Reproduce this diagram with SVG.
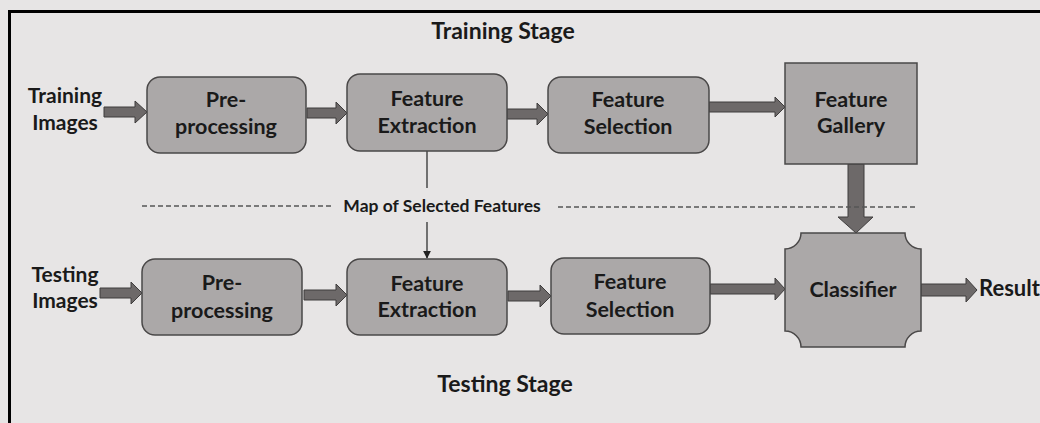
<svg xmlns="http://www.w3.org/2000/svg" width="1040" height="423" viewBox="0 0 1040 423">
<defs>
<style>
.box{fill:#aba8a8;stroke:#4a4848;stroke-width:1.5}
.arr{fill:#6d6969;stroke:#3e3c3c;stroke-width:1}
.t{font-family:Lato,"Open Sans","Liberation Sans",sans-serif;font-weight:bold;fill:#1a1a1a;text-anchor:middle}
.n{font-size:21.5px}
.lbl{font-size:21px}
.dash{stroke:#555;stroke-width:1.3;stroke-dasharray:5 3;fill:none}
.thin{stroke:#222;stroke-width:1.2;fill:none}
</style>
<marker id="ah" viewBox="0 0 10 10" refX="9" refY="5" markerWidth="8" markerHeight="8" markerUnits="userSpaceOnUse" orient="auto">
<path d="M0,0 L10,5 L0,10 Z" fill="#222"/>
</marker>
</defs>
<rect x="0" y="0" width="1040" height="423" fill="#e7e5e5"/>
<path d="M9.5,430 V11.5 H1045" fill="none" stroke="#000" stroke-width="3"/>

<text class="t" x="503" y="39" font-size="23">Training  Stage</text>
<text class="t" x="505" y="392" font-size="23">Testing  Stage</text>

<g id="connectors">
<polygon class="arr" points="104,107 135,107 135,101 147,112 135,123 135,117 104,117"/>
<polygon class="arr" points="307,108 336,108 336,102 347,113 336,124 336,118 307,118"/>
<polygon class="arr" points="507,109 537,109 537,103 548,114 537,125 537,119 507,119"/>
<polygon class="arr" points="709,102 775,102 775,97 785,107 775,117 775,112 709,112"/>
<polygon class="arr" points="848,164 864,164 864,217 873,217 856,233 838,217 848,217"/>
<polygon class="arr" points="100,288 131,288 131,282 142,293 131,304 131,298 100,298"/>
<polygon class="arr" points="304,290 336,290 336,284 347,295 336,306 336,300 304,300"/>
<polygon class="arr" points="508,291 540,291 540,285 551,296 540,307 540,301 508,301"/>
<polygon class="arr" points="710,284 775,284 775,278 785,289 775,300 775,294 710,294"/>
<polygon class="arr" points="921,284 966,284 966,278 977,290 966,302 966,296 921,296"/>
<line class="thin" x1="427" y1="151" x2="427" y2="188"/>
<line class="thin" x1="427" y1="222" x2="427" y2="258" marker-end="url(#ah)"/>
<line class="dash" x1="142" y1="206" x2="332" y2="206"/>
<line class="dash" x1="558" y1="207" x2="918" y2="207"/>
</g>

<text class="t" x="442" y="212" font-size="17.5">Map of Selected Features</text>

<g id="train-images"><text class="t lbl" x="65" y="103">Training</text><text class="t lbl" x="65" y="130">Images</text></g>
<g id="test-images"><text class="t lbl" x="65" y="282">Testing</text><text class="t lbl" x="65" y="308">Images</text></g>

<g id="train-pre"><rect class="box" x="147" y="77" width="159" height="76" rx="13"/>
<text class="t n" x="226" y="107">Pre-</text><text class="t n" x="226" y="134">processing</text></g>
<g id="train-fe"><rect class="box" x="347" y="74" width="160" height="77" rx="13"/>
<text class="t n" x="427" y="106">Feature</text><text class="t n" x="427" y="133">Extraction</text></g>
<g id="train-fs"><rect class="box" x="548" y="77" width="161" height="76" rx="13"/>
<text class="t n" x="628" y="107">Feature</text><text class="t n" x="628" y="134">Selection</text></g>
<g id="gallery"><rect class="box" x="785" y="63" width="132" height="101"/>
<text class="t n" x="851" y="107">Feature</text><text class="t n" x="851" y="133">Gallery</text></g>

<g id="test-pre"><rect class="box" x="142" y="259" width="160" height="76" rx="13"/>
<text class="t n" x="222" y="290">Pre-</text><text class="t n" x="222" y="318">processing</text></g>
<g id="test-fe"><rect class="box" x="347" y="259" width="160" height="76" rx="13"/>
<text class="t n" x="427" y="291">Feature</text><text class="t n" x="427" y="317">Extraction</text></g>
<g id="test-fs"><rect class="box" x="551" y="258" width="159" height="76" rx="13"/>
<text class="t n" x="630" y="289">Feature</text><text class="t n" x="630" y="317">Selection</text></g>
<g id="classifier"><path class="box" d="M801,233 H905 A16,16 0 0 0 921,249 V331 A16,16 0 0 0 905,347 H801 A16,16 0 0 0 785,331 V249 A16,16 0 0 0 801,233 Z"/>
<text class="t n" x="853" y="297">Classifier</text></g>
<g id="result"><text class="t lbl" x="979" y="296" style="text-anchor:start;font-size:22px">Result</text></g>
</svg>
